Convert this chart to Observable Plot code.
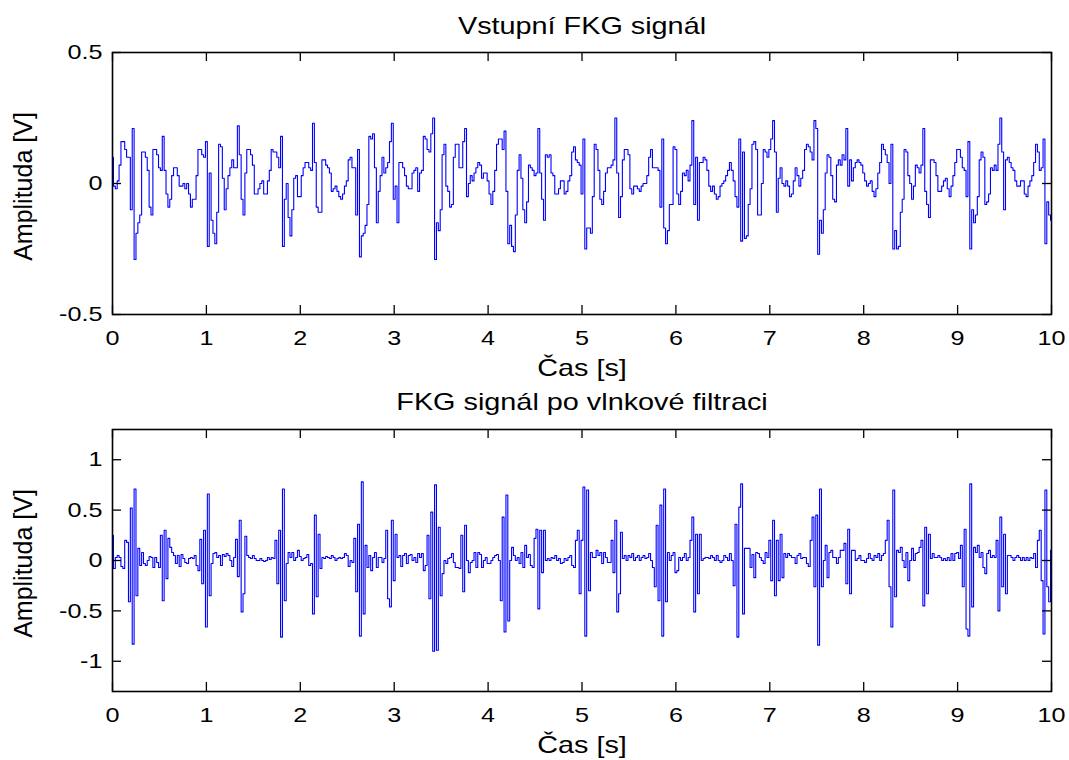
<!DOCTYPE html>
<html><head><meta charset="utf-8">
<script src="https://cdn.jsdelivr.net/npm/d3@7"></script>
<script src="https://cdn.jsdelivr.net/npm/@observablehq/plot@0.6"></script>
<style>
body{margin:0;background:#fff;}
#chart{width:1069px;height:760px;background:#fff;}
#chart svg{display:block;}
</style></head><body><div id="chart"></div>
<script>
const duration = 10; // seconds shown on the x axis
const topTitle = "Vstupní FKG signál";
const bottomTitle = "FKG signál po vlnkové filtraci";
const xLabel = "Čas [s]";
const yLabel = "Amplituda [V]";
const xTicks = [0,1,2,3,4,5,6,7,8,9,10];
const xTickLabels = ["0","1","2","3","4","5","6","7","8","9","10"];
const topYTicks = [-0.5,0,0.5];
const topYTickLabels = ["-0.5","0","0.5"];
const bottomYTicks = [-1,-0.5,0,0.5,1];
const bottomYTickLabels = ["-1","-0.5","0","0.5","1"];
const topYDomain = [-0.5,0.5];
const bottomYDomain = [-1.3,1.3];

// input PCG signal, volts, evenly sampled over 0..10 s
const topSignal = [
.10,-.01,-.02,.01,.07,.16,.16,.13,.10,.10,
-.10,.21,-.29,-.19,-.15,-.12,.12,.12,.10,.05,
-.09,-.12,.13,.13,.11,.06,.05,.18,.05,-.04,
-.09,-.06,.03,.06,.06,.03,-.01,-.01,.00,-.02,
.00,-.04,-.09,-.06,-.06,.03,.13,.13,.11,.10,
.16,-.24,.04,-.14,-.19,-.23,-.11,.15,.14,.02,
-.10,-.02,.03,.06,.09,.06,.06,.22,.11,-.06,
-.12,.04,.13,.13,.11,.07,-.04,-.04,-.02,.00,
.01,-.04,-.04,.01,.05,.13,.12,.12,.10,.06,
.18,-.24,-.06,.00,-.13,-.20,-.10,.02,.03,-.05,
-.05,.03,.06,.08,.08,.06,.05,.23,.08,-.09,
-.11,-.11,.09,.09,.07,.06,.04,-.03,-.02,-.01,
-.03,-.05,-.06,-.04,-.01,.01,.09,.10,.06,.06,
-.12,.13,-.28,-.20,-.19,-.16,-.08,.18,.17,.19,
.06,-.15,-.03,.03,.10,.04,.06,.08,.16,.23,
-.06,-.01,-.15,.08,.08,.06,.03,-.01,-.02,-.02,
.04,.05,.06,-.03,.04,.05,.18,.17,.13,.12,
.19,.25,-.29,-.15,-.18,-.10,.11,.15,-.01,-.03,
-.09,-.08,.10,.15,.15,.06,.06,.16,.21,-.05,
.00,.03,.01,.04,.06,.08,.07,.02,.04,.04,
.01,-.04,-.08,-.03,.05,.15,.17,.17,.13,.20,
-.03,-.23,-.16,-.24,-.26,-.12,.05,.11,.02,-.10,
-.15,-.07,.07,.06,.05,.03,.04,.21,.04,-.06,
-.14,.11,.10,.11,.04,.03,-.04,-.04,-.02,.01,
.01,-.04,-.03,.01,.03,.12,.14,.09,.08,.07,
-.04,.17,-.25,-.17,-.17,-.19,-.05,.15,.13,.05,
-.06,-.08,-.03,.04,.06,.06,.07,.09,.25,.04,
-.13,-.05,.09,.13,.13,.11,-.02,-.04,-.01,-.01,
-.02,-.03,-.01,.00,.00,.03,.10,.13,.06,.06,
.06,.05,-.09,.17,-.17,-.23,-.18,-.08,-.08,.14,
.13,-.04,-.08,-.03,.04,.03,.05,.01,.07,.24,
-.08,.10,-.14,.08,.08,.10,.09,.05,-.01,-.03,
-.01,-.04,-.06,-.05,-.01,.00,.01,.03,.05,.08,
.05,.01,-.05,-.09,.17,-.22,.12,-.21,-.20,-.08,
-.02,.15,.16,.13,-.12,-.12,.00,.13,.12,.10,
.13,.17,.24,.12,-.11,.02,.06,.00,-.01,.01,
-.01,-.05,-.04,.01,.06,.03,-.01,.02,.05,.13,
.15,.14,.12,.09,.24,.21,-.27,-.14,-.19,-.10,
.04,.11,.10,.03,-.06,-.07,.07,.09,.07,.11,
.09,.21,-.01,.09,.01,.06,.08,.09,.08,.07,
.04,.01,-.01,.00,.01,-.03,-.05,-.02,.04,.08,
.15,.13,.11,.08,.00,.15,-.25,-.18,-.25,-.24,
-.11,-.06,.13,.12,.03,.00,-.06,-.01,.07,.06,
.04,.07,.21,-.03,-.08,-.13,.09,.09,.08,.03,
-.03,-.03,-.01,.01,.02,-.02,-.05,-.01,.03,.08,
.13,.13,.10,.06,.05,-.05,.16,-.25,-.10,-.15,
-.12,-.05,.09,.12,.10,-.08,-.07,-.04,.06,.05,
.07,.05,.15,.25,.12,-.10,.09,.10,.08,.06,
.05,.01,-.01,-.01,.01,.01,-.04,-.05,-.01,.01,
.03,.08,.15,.12,.05,.06,.17,-.23,-.07,-.12,
-.14
];

// wavelet-filtered PCG signal, volts, same sampling
const bottomSignal = [
.25,-.08,.03,.05,.03,-.06,-.08,.20,.18,-.41,
.52,-.83,.71,-.35,.12,-.05,.08,-.03,-.05,.00,
.04,.03,-.07,.03,-.02,-.07,.25,-.40,.30,-.18,
.22,.13,.08,.05,-.03,.05,-.06,.06,.02,-.02,
-.03,.02,.03,.02,.05,-.05,-.10,.21,-.23,.30,
-.66,.66,-.35,-.03,.07,.08,.03,.05,-.05,.06,
.04,.07,.05,.00,-.06,.03,.21,-.16,.40,-.51,
-.33,.24,.05,.03,.02,.05,.02,.00,.00,.02,
.00,-.01,.00,.03,.01,.03,.02,.20,-.23,.30,
-.76,.71,-.40,-.03,.08,.03,.08,.00,.03,.10,
.04,.00,.02,.03,.06,-.05,-.03,-.53,.45,-.36,
.26,-.08,.03,.02,.04,.03,.02,.05,.03,.00,
.02,.03,.02,.03,.07,.05,-.06,.00,-.02,.22,
-.31,.36,-.75,.78,-.53,.15,-.07,.05,-.10,.03,
.08,-.07,.03,.03,-.02,.02,.30,-.38,-.46,.40,
-.20,.26,.03,.05,-.06,.05,.07,-.03,.05,.06,
.00,.03,-.02,.07,.03,.07,-.10,-.05,.25,-.38,
.48,-.90,.75,-.89,.33,-.35,-.13,.00,-.03,.02,
.03,.07,-.02,-.07,-.07,-.08,.25,-.31,.35,.00,
-.12,-.02,.00,.08,-.07,.08,.06,-.07,.00,.03,
-.03,-.03,.00,.03,.05,.06,.00,-.40,.43,-.71,
.65,-.60,.00,.13,.05,.00,.03,-.03,.08,-.07,
.15,.03,.06,-.05,-.07,.22,.31,-.48,.30,-.12,
.30,.00,.02,.00,.03,.02,.05,.00,.02,-.03,
-.02,.02,.00,.03,.05,-.05,-.07,.20,.30,-.33,
.20,.73,-.75,.70,-.30,.08,.03,.03,.10,.05,
.08,-.03,.08,.03,-.02,-.02,.20,-.12,.40,-.51,
-.33,.28,.02,.05,.00,.05,.03,.07,.00,.03,
.05,.00,.03,.05,.02,.03,.07,.00,-.07,-.26,
.35,-.40,.55,-.75,.71,-.41,.08,.00,.05,.08,
-.12,-.10,.03,.00,.03,.07,.00,.03,.20,.43,
-.51,.26,-.33,.26,.00,.02,.03,.03,.02,.05,
.03,.00,.05,.00,-.02,.00,.05,.03,.00,.07,
.00,-.25,.36,-.76,.53,.76,-.53,.12,.12,.12,
-.07,.06,-.17,.08,.07,.03,.00,-.03,.08,.03,
.20,-.20,.40,-.35,.20,-.20,.26,-.17,.07,.03,
.07,.05,.03,.03,-.03,.05,.07,.02,.03,.03,
-.03,-.06,.20,.43,-.26,.45,-.84,.71,-.26,.00,
.15,-.17,.08,.10,.03,.03,-.03,.03,.10,.10,
.17,-.23,.31,-.33,.10,.10,.00,.02,.05,.00,
.00,-.02,.02,.07,.02,.00,.05,.03,.07,.00,
.05,.07,.20,.40,-.26,-.66,.70,-.36,.10,.08,
.13,.00,-.07,.08,-.20,.00,.12,.00,.07,.08,
.13,.20,-.45,.33,-.33,.26,.02,.07,.03,.03,
.05,.03,.00,.02,.00,.03,.00,.07,.00,.07,
.08,.02,.15,-.26,.31,-.68,-.75,.76,-.46,.13,
.08,.15,.03,.08,-.07,-.13,.07,.10,.03,.05,
.03,.20,-.50,.43,-.26,.26,-.33,.05,.05,.03,
.00,.03,.05,.03,.00,.03,.00,.03,.00,.03,
.02,.07,-.07,.20,.30,-.20,-.73,.70,-.26,-.41,
.10
];

const FONT = "'Liberation Sans', Arial, Helvetica, sans-serif";
const W = 1069, ML = 112, MR = 18, FH = 262, TK = 9;

function panel({signal, title, yDomain, yTicks, yTickLabels, marginTop, height}) {
  const n = signal.length;
  const data = signal.map((v, i) => ({t: i * duration / (n - 1), v}));
  const FW = W - ML - MR;
  return Plot.plot({
    width: W, height,
    marginLeft: ML, marginRight: MR, marginTop, marginBottom: height - marginTop - FH,
    x: {domain: [0, duration], axis: null},
    y: {domain: yDomain, axis: null},
    style: {fontFamily: FONT, background: "#fff", color: "#000", overflow: "visible"},
    marks: [
      Plot.line(data, {x: "t", y: "v", stroke: "#0000ff", strokeWidth: 1.1, curve: "step"}),
      Plot.ruleX(xTicks, {x: d => d, insetTop: FH - TK, stroke: "#000", strokeWidth: 1.3}),
      Plot.ruleX(xTicks, {x: d => d, insetBottom: FH - TK, stroke: "#000", strokeWidth: 1.3}),
      Plot.ruleY(yTicks, {y: d => d, insetRight: FW - TK, stroke: "#000", strokeWidth: 1.3}),
      Plot.ruleY(yTicks, {y: d => d, insetLeft: FW - TK, stroke: "#000", strokeWidth: 1.3}),
      Plot.frame({stroke: "#000", strokeWidth: 1.6}),
      Plot.text(xTicks, {x: d => d, text: (d, i) => xTickLabels[i], frameAnchor: "bottom", dy: 30,
        lineAnchor: "bottom", fontSize: 21, fill: "#000"}),
      Plot.text(yTicks, {y: d => d, text: (d, i) => yTickLabels[i], frameAnchor: "left", dx: -10,
        textAnchor: "end", lineAnchor: "middle", fontSize: 21, fill: "#000"}),
      Plot.text([xLabel], {text: d => d, frameAnchor: "bottom", dy: 61, lineAnchor: "bottom",
        textAnchor: "middle", fontSize: 24, fill: "#000"}),
      Plot.text([title], {text: d => d, frameAnchor: "top", dy: marginTop === 52 ? -19 : -20,
        lineAnchor: "bottom", textAnchor: "middle", fontSize: 24, fill: "#000"}),
      Plot.text([yLabel], {text: d => d, frameAnchor: "left", dx: -81, dy: 3, rotate: -90,
        textAnchor: "middle", lineAnchor: "bottom", fontSize: 25, fill: "#000"})
    ]
  });
}

const root = document.getElementById("chart");
root.appendChild(panel({signal: topSignal, title: topTitle, yDomain: topYDomain,
  yTicks: topYTicks, yTickLabels: topYTickLabels, marginTop: 52, height: 380}));
root.appendChild(panel({signal: bottomSignal, title: bottomTitle, yDomain: bottomYDomain,
  yTicks: bottomYTicks, yTickLabels: bottomYTickLabels, marginTop: 49, height: 380}));

// widen horizontal text glyphs like the stretched original figure
d3.select(root).selectAll("text").each(function () {
  if (this.textContent === yLabel) return;
  const L = this.getComputedTextLength();
  if (L > 0) {
    this.setAttribute("textLength", (L * 1.2).toFixed(1));
    this.setAttribute("lengthAdjust", "spacingAndGlyphs");
  }
});
</script>
</body></html>
